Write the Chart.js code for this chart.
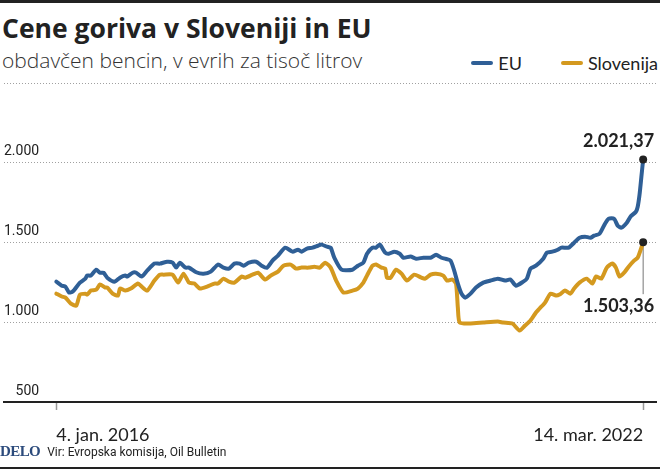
<!DOCTYPE html>
<html lang="sl">
<head>
<meta charset="utf-8">
<title>Cene goriva v Sloveniji in EU</title>
<script src="https://cdn.jsdelivr.net/npm/chart.js@4.4.1/dist/chart.umd.min.js"></script>
<style>
  html, body { margin: 0; padding: 0; background: #fff; }
  #wrap { position: relative; width: 660px; height: 472px; overflow: hidden; font-family: Lato, "Open Sans", sans-serif; color: #222; }
  #chart { position: absolute; left: 0; top: 0; }
  .rule { position: absolute; left: 0; width: 660px; background: #222; }
  .title { position: absolute; left: 2px; top: 13px; font-family: "Open Sans", sans-serif; font-size: 26.5px; line-height: 30px; font-weight: 700; white-space: nowrap; }
  .subtitle { position: absolute; left: 2px; top: 49px; font-family: "Open Sans", sans-serif; font-size: 21px; line-height: 22px; font-weight: 300; color: #333; white-space: nowrap; }
  .legend { position: absolute; right: 2px; top: 52px; display: flex; gap: 39px; font-size: 18px; line-height: 22px; color: #222; }
  .legend span { display: flex; align-items: center; }
  .legend i { display: inline-block; width: 22px; height: 4px; border-radius: 2px; margin-right: 5px; }
  .footer { position: absolute; left: 0; top: 443px; display: flex; align-items: baseline; white-space: nowrap; }
  .logo { font-family: "Liberation Serif", "DejaVu Serif", serif; font-weight: 700; font-size: 15px; color: #2c4b7c; letter-spacing: -0.6px; }
  .source { margin-left: 7px; font-family: Roboto, sans-serif; font-size: 12px; color: #222; }
</style>
</head>
<body>
<div id="wrap">
  <div class="rule" style="top:0;height:3px"></div>
  <div class="title">Cene goriva v Sloveniji in EU</div>
  <div class="subtitle">obdavčen bencin, v evrih za tisoč litrov</div>
  <div class="legend" id="legend"></div>
  <canvas id="chart" width="660" height="472"></canvas>
  <div class="footer"><span class="logo">DELO</span><span class="source">Vir: Evropska komisija, Oil Bulletin</span></div>
  <div class="rule" style="top:467px;height:2px"></div>
</div>
<script>
// weeks counted from 4. jan. 2016 (week 0) to 14. mar. 2022 (week 323)
const totalWeeks = 323;
const xTickLabels = ['4. jan. 2016', '14. mar. 2022'];
const yTicks = [500, 1000, 1500, 2000, 2500];
const seriesNames = ['EU', 'Slovenija'];
const seriesColors = ['#2f5f96', '#d4991f'];

const euWeeks = [0, 3, 5, 7, 9, 13, 16, 17, 19, 22, 24, 26, 28, 32, 35, 38, 39, 42, 44, 47,
  50, 54, 57, 61, 64, 66, 68, 71, 73, 77, 81, 85, 89, 92, 95, 98, 101, 103, 106, 110,
  113, 116, 119, 122, 126, 130, 133, 135, 138, 141, 144, 146, 149, 151, 153, 157, 163, 166, 169, 171,
  174, 176, 178, 181, 183, 186, 189, 191, 195, 198, 202, 206, 209, 212, 214, 217, 219, 221, 223, 225,
  228, 231, 235, 239, 243, 247, 250, 253, 257, 259, 261, 264, 268, 270, 273, 276, 278, 282, 285, 288,
  291, 294, 296, 299, 302, 304, 307, 309, 311, 314, 316, 319, 320, 321, 322, 323];
const euValues = [1256, 1231, 1225, 1188, 1194, 1250, 1275, 1294, 1294, 1331, 1312, 1312, 1281, 1256, 1281, 1294, 1288, 1312, 1312, 1288,
  1325, 1369, 1369, 1381, 1375, 1344, 1375, 1344, 1344, 1315, 1306, 1319, 1363, 1344, 1338, 1369, 1369, 1356, 1375, 1381,
  1356, 1344, 1388, 1419, 1469, 1444, 1456, 1444, 1463, 1469, 1481, 1488, 1475, 1469, 1406, 1331, 1331, 1356, 1375, 1431,
  1469, 1469, 1488, 1438, 1431, 1444, 1431, 1406, 1413, 1400, 1406, 1406, 1425, 1406, 1400, 1388, 1325, 1244, 1181, 1156,
  1181, 1219, 1250, 1263, 1275, 1263, 1269, 1231, 1256, 1275, 1338, 1356, 1400, 1438, 1444, 1456, 1469, 1469, 1500, 1531,
  1538, 1531, 1544, 1556, 1619, 1650, 1650, 1606, 1594, 1625, 1663, 1694, 1725, 1800, 1910, 2021.37];

const sloWeeks = [0, 3, 5, 8, 11, 13, 16, 17, 19, 22, 24, 27, 28, 31, 34, 35, 38, 41, 45, 47,
  50, 54, 57, 59, 64, 67, 70, 73, 76, 79, 83, 87, 89, 92, 95, 98, 102, 104, 108, 111,
  115, 118, 122, 125, 129, 132, 135, 139, 142, 145, 148, 151, 154, 158, 163, 166, 169, 171, 174, 176,
  179, 181, 182, 184, 187, 190, 193, 197, 201, 203, 206, 209, 213, 215, 218, 220, 221, 222, 228, 235,
  243, 246, 251, 255, 258, 261, 264, 266, 269, 272, 275, 277, 280, 283, 285, 288, 292, 295, 297, 300,
  303, 306, 308, 310, 313, 315, 318, 320, 323];
const sloValues = [1181, 1163, 1156, 1119, 1106, 1175, 1181, 1175, 1200, 1206, 1238, 1219, 1219, 1181, 1169, 1213, 1200, 1213, 1244, 1225,
  1200, 1263, 1300, 1300, 1300, 1250, 1306, 1250, 1244, 1213, 1225, 1244, 1244, 1275, 1256, 1250, 1288, 1281, 1300, 1312,
  1269, 1294, 1319, 1356, 1363, 1338, 1344, 1344, 1350, 1344, 1375, 1344, 1263, 1188, 1200, 1213, 1250, 1294, 1356, 1363,
  1344, 1338, 1281, 1281, 1331, 1306, 1263, 1300, 1281, 1275, 1300, 1306, 1294, 1263, 1269, 1244, 1094, 1000, 994, 1000,
  1006, 1000, 994, 950, 981, 1013, 1063, 1088, 1125, 1181, 1169, 1175, 1200, 1181, 1213, 1250, 1275, 1244, 1288, 1275,
  1344, 1369, 1344, 1288, 1319, 1350, 1388, 1406, 1503.36];

// room left and right of the data, in weeks
const padStartWeeks = 28.8;
const padEndWeeks = 7.07;

const tickFont = 'Roboto, sans-serif';
const textFont = 'Lato, "Open Sans", sans-serif';

function fmtNum(v, dec) {
  const parts = v.toFixed(dec || 0).split('.');
  const whole = parts[0].replace(/\B(?=(\d{3})+(?!\d))/g, '.');
  return parts[1] ? whole + ',' + parts[1] : whole;
}

function toPoints(weeks, values) {
  return weeks.map((w, i) => ({ x: w, y: values[i] }));
}

function lastDot(ctx) {
  return ctx.dataIndex === ctx.dataset.data.length - 1 ? 4 : 0;
}

// legend built from the series names/colours
document.getElementById('legend').innerHTML = seriesNames
  .map((n, i) => `<span><i style="background:${seriesColors[i]}"></i>${n}</span>`)
  .join('');

const endLabels = {
  id: 'endLabels',
  beforeDatasetsDraw(chart) {
    const si = chart.getDatasetMeta(1).data.at(-1);
    const ctx = chart.ctx;
    ctx.save();
    ctx.strokeStyle = '#777';
    ctx.lineWidth = 1;
    ctx.beginPath();
    ctx.moveTo(si.x, si.y);
    ctx.lineTo(si.x, si.y + 52);
    ctx.stroke();
    ctx.restore();
  },
  afterDatasetsDraw(chart) {
    const eu = chart.getDatasetMeta(0).data.at(-1);
    const si = chart.getDatasetMeta(1).data.at(-1);
    const ctx = chart.ctx;
    ctx.save();
    ctx.font = 'bold 18px ' + textFont;
    ctx.fillStyle = '#222';
    ctx.textAlign = 'right';
    ctx.textBaseline = 'alphabetic';
    ctx.fillText(fmtNum(euValues.at(-1), 2), eu.x + 11, eu.y - 12);
    ctx.textBaseline = 'middle';
    ctx.fillText(fmtNum(sloValues.at(-1), 2), si.x + 11, si.y + 64);
    ctx.restore();
  }
};

new Chart(document.getElementById('chart'), {
  type: 'line',
  data: {
    datasets: [
      {
        label: seriesNames[0],
        data: toPoints(euWeeks, euValues),
        borderColor: seriesColors[0],
        borderWidth: 4,
        borderCapStyle: 'round',
        borderJoinStyle: 'round',
        tension: 0.2,
        pointRadius: lastDot,
        pointBackgroundColor: '#222',
        pointBorderWidth: 0
      },
      {
        label: seriesNames[1],
        data: toPoints(sloWeeks, sloValues),
        borderColor: seriesColors[1],
        borderWidth: 4,
        borderCapStyle: 'round',
        borderJoinStyle: 'round',
        tension: 0.2,
        pointRadius: lastDot,
        pointBackgroundColor: '#222',
        pointBorderWidth: 0
      }
    ]
  },
  options: {
    responsive: false,
    animation: false,
    layout: { padding: { top: 83, bottom: 24, left: 0, right: 0 } },
    plugins: {
      legend: { display: false },
      tooltip: { enabled: false }
    },
    scales: {
      x: {
        type: 'linear',
        min: -padStartWeeks,
        max: totalWeeks + padEndWeeks,
        afterBuildTicks: s => { s.ticks = [{ value: 0 }, { value: totalWeeks }]; },
        grid: {
          drawOnChartArea: false,
          drawTicks: true,
          tickLength: 20,
          tickColor: '#999',
          tickWidth: 1.5,
          tickBorderDash: [7, 40]
        },
        border: { display: true, color: '#222', width: 2 },
        ticks: {
          align: 'inner',
          autoSkip: false,
          maxRotation: 0,
          padding: 2,
          color: '#222',
          font: { family: textFont, size: 18 },
          callback: (v, i) => xTickLabels[i]
        }
      },
      y: {
        min: yTicks[0],
        max: yTicks[yTicks.length - 1],
        afterFit: s => { s.width = 0; },
        afterBuildTicks: s => { s.ticks = yTicks.map(v => ({ value: v })); },
        grid: { color: '#a0a0a0', lineWidth: 1, drawTicks: false },
        border: { display: false, dash: [1, 2] },
        ticks: {
          mirror: true,
          crossAlign: 'far',
          padding: 0,
          labelOffset: -11,
          color: '#222',
          font: { family: tickFont, size: 14 },
          callback: v => v === yTicks[yTicks.length - 1] ? '' : fmtNum(v)
        }
      }
    }
  },
  plugins: [endLabels]
});
</script>
</body>
</html>
